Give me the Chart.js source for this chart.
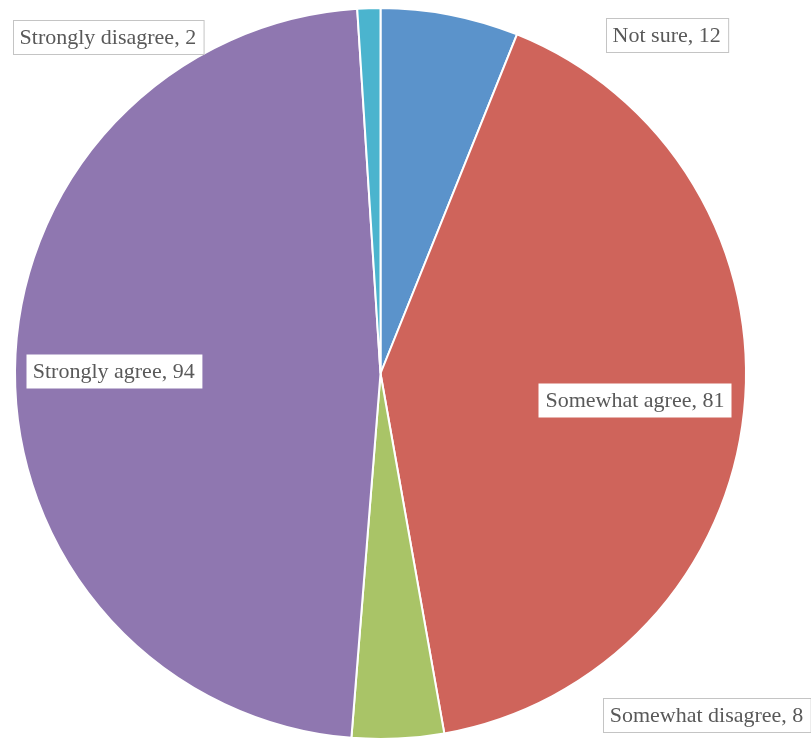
<!DOCTYPE html>
<html>
<head>
<meta charset="utf-8">
<script src="https://cdn.jsdelivr.net/npm/chart.js@4.4.1/dist/chart.umd.min.js"></script>
<style>
  html, body { margin: 0; padding: 0; background: #ffffff; }
  #wrap { width: 811px; height: 740px; position: relative; }
</style>
</head>
<body>
<div id="wrap"><canvas id="pie"></canvas></div>
<script>
// Survey responses, clockwise from 12 o'clock
const categories = ['Not sure', 'Somewhat agree', 'Somewhat disagree', 'Strongly agree', 'Strongly disagree'];
const responses = [12, 81, 8, 94, 2];
const sliceColors = ['#5B93CB', '#CF645B', '#A9C467', '#8F77B0', '#4BB4CE'];

// Where each callout sits: inside slices along the mid angle (fraction of radius),
// outside ones as an offset from the pie centre in radius units.
const calloutPlacement = [
  { outside: [0.783, -0.926] },
  { inside: 0.70 },
  { outside: [0.892, 0.934] },
  { inside: 0.73 },
  { outside: [-0.746, -0.921] }
];

const calloutPlugin = {
  id: 'callouts',
  afterDatasetsDraw(chart) {
    const ctx = chart.ctx;
    const meta = chart.getDatasetMeta(0);
    ctx.save();
    ctx.font = '22px "Liberation Serif", "Times New Roman", serif';
    ctx.textAlign = 'center';
    ctx.textBaseline = 'middle';
    meta.data.forEach((arc, i) => {
      const { x, y, startAngle, endAngle, outerRadius } = arc.getProps(['x', 'y', 'startAngle', 'endAngle', 'outerRadius'], true);
      const place = calloutPlacement[i];
      let cx, cy;
      if (place.inside !== undefined) {
        const mid = (startAngle + endAngle) / 2;
        cx = x + Math.cos(mid) * outerRadius * place.inside;
        cy = y + Math.sin(mid) * outerRadius * place.inside;
      } else {
        cx = x + place.outside[0] * outerRadius;
        cy = y + place.outside[1] * outerRadius;
      }
      const text = categories[i] + ', ' + responses[i];
      const w = ctx.measureText(text).width + 14;
      const h = 34;
      const bx = Math.round(cx - w / 2) + 0.5;
      const by = Math.round(cy - h / 2) + 0.5;
      ctx.fillStyle = '#ffffff';
      ctx.fillRect(bx, by, w, h);
      if (place.outside) {
        ctx.strokeStyle = '#c4c4c4';
        ctx.lineWidth = 1;
        ctx.strokeRect(bx, by, w, h);
      }
      ctx.fillStyle = '#595959';
      ctx.fillText(text, cx, cy + 1);
    });
    ctx.restore();
  }
};

new Chart(document.getElementById('pie'), {
  type: 'pie',
  data: {
    labels: categories,
    datasets: [{
      data: responses,
      backgroundColor: sliceColors,
      borderColor: '#ffffff',
      borderWidth: 2
    }]
  },
  options: {
    responsive: true,
    maintainAspectRatio: false,
    animation: false,
    layout: { padding: { top: 7, bottom: 0, left: 14, right: 64 } },
    plugins: {
      legend: { display: false },
      tooltip: { enabled: false }
    }
  },
  plugins: [calloutPlugin]
});
</script>
</body>
</html>
